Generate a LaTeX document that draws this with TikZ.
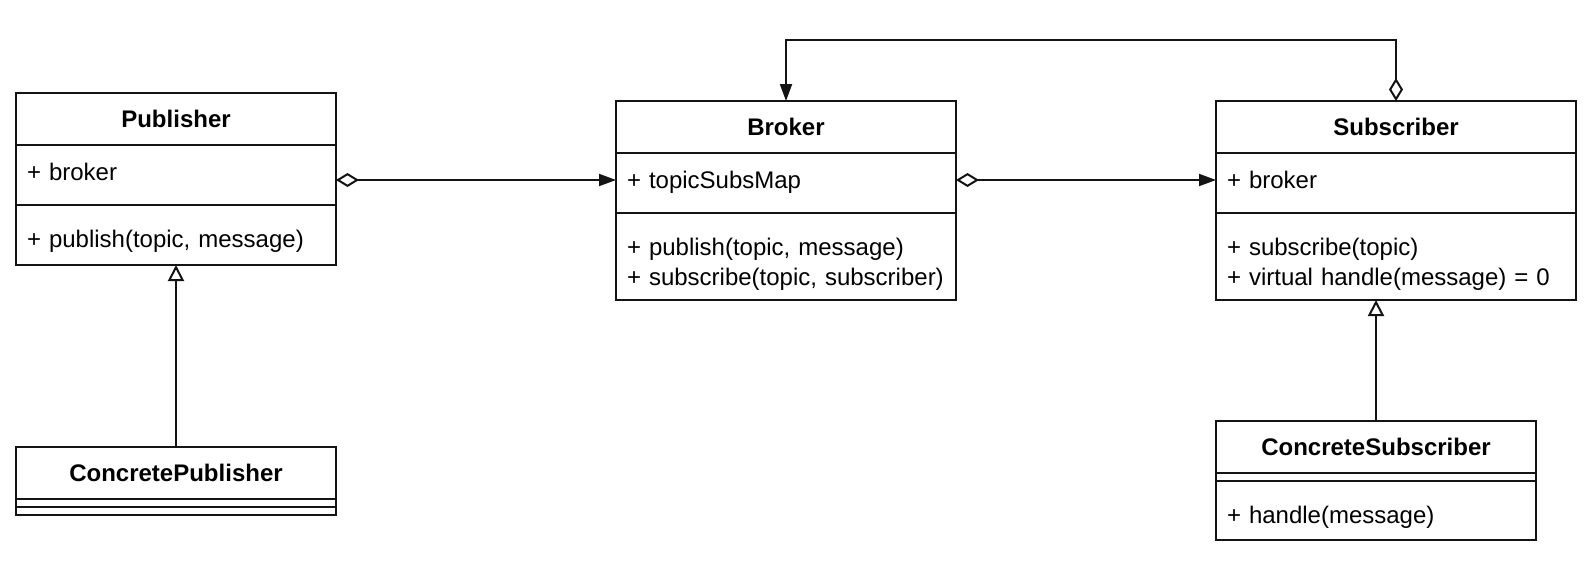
\documentclass[tikz,border=0pt]{standalone}
\usepackage{fontspec}
\setmainfont{Liberation Sans}
\usepackage{tikz}
\usetikzlibrary{
  positioning,
  arrows.meta
}
\definecolor{umlborder}{RGB}{20,20,20}
\definecolor{umltext}{RGB}{0,0,0}
\tikzset{
  umlpart/.style={
    draw=umlborder, line width=1pt, outer sep=0pt,
    inner xsep=5.5pt, inner ysep=0pt, text=umltext
  },
  titlepart/.style={
    umlpart, font=\bfseries, align=center,
    text height=17pt, text depth=9pt
  },
  attrpart/.style={
    umlpart, align=left, text height=17.5pt, text depth=12.5pt
  },
  opspart/.style={
    umlpart, align=left, text height=21pt, text depth=#1
  },
  emptypart/.style={
    umlpart, text height=0pt, text depth=4pt
  },
  aggrarrow/.style={
    {Diamond[open, length=11.5pt, width=7pt]}-{Triangle[length=8.5pt, width=6pt]},
    line width=1pt, draw=umlborder
  },
  inheritarrow/.style={
    -{Triangle[open, length=8pt, width=8pt]}, line width=1pt, draw=umlborder
  }
}

\begin{document}
\fontsize{12}{15}\selectfont
\begin{tikzpicture}[x=0.5pt, y=-0.5pt, node distance=0pt]
  \useasboundingbox[fill=white] (0,0) rectangle (1594,563);

  % Publisher
  \node[titlepart, text width=149pt, anchor=north west] (pubTitle) at (16,93) {Publisher};
  \node[attrpart, text width=149pt, below=of pubTitle] (pubAttr) {+ broker};
  \node[opspart=9pt, text width=149pt, below=of pubAttr] (pubOps) {+ publish(topic, message)};

  % Broker
  \node[titlepart, text width=159pt, anchor=north west] (brkTitle) at (616,101) {Broker};
  \node[attrpart, text width=159pt, below=of brkTitle] (brkAttr) {+ topicSubsMap};
  \node[opspart=22.5pt, text width=159pt, below=of brkAttr] (brkOps) {+ publish(topic, message)\\+ subscribe(topic, subscriber)};

  % Subscriber
  \node[titlepart, text width=169pt, anchor=north west] (subTitle) at (1216,101) {Subscriber};
  \node[attrpart, text width=169pt, below=of subTitle] (subAttr) {+ broker};
  \node[opspart=22.5pt, text width=169pt, below=of subAttr] (subOps) {+ subscribe(topic)\\+ virtual handle(message) = 0};

  % ConcretePublisher
  \node[titlepart, text width=149pt, anchor=north west] (cpubTitle) at (16,447) {ConcretePublisher};
  \node[emptypart, text width=149pt, below=of cpubTitle] (cpubAttr) {};
  \node[emptypart, text width=149pt, below=of cpubAttr] (cpubOps) {};

  % ConcreteSubscriber
  \node[titlepart, text width=149pt, anchor=north west] (csubTitle) at (1216,421) {ConcreteSubscriber};
  \node[emptypart, text width=149pt, below=of csubTitle] (csubAttr) {};
  \node[opspart=8.5pt, text width=149pt, below=of csubAttr] (csubOps) {+ handle(message)};

  \coordinate (pubLink) at ([yshift=-2.5pt]pubAttr.east);
  \coordinate (brkLink) at ([yshift=1.5pt]brkAttr.east);
  \draw[aggrarrow] (pubLink) -- (pubLink -| brkAttr.west);
  \draw[aggrarrow] (brkLink) -- (brkLink -| subAttr.west);
  \draw[aggrarrow] (subTitle.north) -- ++(0,-61) -| (brkTitle.north);

  \draw[inheritarrow] (cpubTitle.north) -- (pubOps.south);
  \draw[inheritarrow] (csubTitle.north) -- (csubTitle.north |- subOps.south);

\end{tikzpicture}
\end{document}
